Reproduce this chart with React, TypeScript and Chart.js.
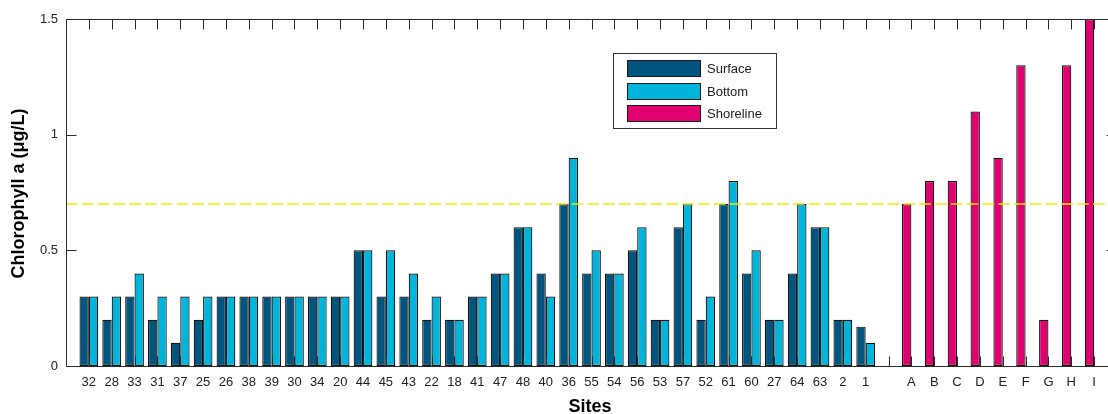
import React, { useEffect, useRef } from 'react';
import { Chart, registerables } from 'chart.js';

Chart.register(...registerables);

const siteLabels = ['32','28','33','31','37','25','26','38','39','30','34','20','44','45','43','22','18','41','47','48','40','36','55','54','56','53','57','52','61','60','27','64','63','2','1'];
const shorelineLabels = ['A','B','C','D','E','F','G','H','I'];
const surfaceValues = [0.3,0.2,0.3,0.2,0.1,0.2,0.3,0.3,0.3,0.3,0.3,0.3,0.5,0.3,0.3,0.2,0.2,0.3,0.4,0.6,0.4,0.7,0.4,0.4,0.5,0.2,0.6,0.2,0.7,0.4,0.2,0.4,0.6,0.2,0.17];
const bottomValues = [0.3,0.3,0.4,0.3,0.3,0.3,0.3,0.3,0.3,0.3,0.3,0.3,0.5,0.5,0.4,0.3,0.2,0.3,0.4,0.6,0.3,0.9,0.5,0.4,0.6,0.2,0.7,0.3,0.8,0.5,0.2,0.7,0.6,0.2,0.1];
const shorelineValues = [0.7,0.8,0.8,1.1,0.9,1.3,0.2,1.3,1.5];
const yTickValues = [0, 0.5, 1, 1.5];
const yTickLabels = ['0', '0.5', '1', '1.5'];
const guidelineValue = 0.7;
const seriesNames = ['Surface', 'Bottom', 'Shoreline'];
const seriesColors = ['#00557f', '#00b4dc', '#e0006f'];

// all tick labels along x: sites, one blank gap, shoreline stations
const allLabels = [...siteLabels, '', ...shorelineLabels];
const shoreStart = siteLabels.length + 2;

const FONT = '"Liberation Sans", Arial, Helvetica, sans-serif';

const decorPlugin = {
  id: 'decor',
  afterDatasetsDraw(chart: any) {
    const { ctx, chartArea: a, scales } = chart;
    const xs = scales.x;
    const ys = scales.y;
    ctx.save();
    // dashed guideline
    const gy = ys.getPixelForValue(guidelineValue);
    ctx.strokeStyle = '#f0ec00';
    ctx.lineWidth = 1.5;
    ctx.setLineDash([11.7, 4.1]);
    ctx.beginPath();
    ctx.moveTo(a.left, gy);
    ctx.lineTo(a.right, gy);
    ctx.stroke();
    ctx.setLineDash([]);

    // frame
    const L = Math.round(a.left) + 0.5;
    const R = Math.round(a.right) - 0.5;
    const T = Math.round(a.top) + 0.5;
    const B = Math.round(a.bottom) + 0.5;
    ctx.strokeStyle = '#2a2a2a';
    ctx.lineWidth = 1;
    ctx.beginPath();
    ctx.moveTo(L, T); ctx.lineTo(R, T); ctx.lineTo(R, B); ctx.lineTo(L, B); ctx.closePath();
    ctx.stroke();

    // inward ticks
    const tl = 10;
    ctx.beginPath();
    xs.ticks.forEach((t: any) => {
      const px = Math.round(xs.getPixelForValue(t.value)) + 0.5;
      ctx.moveTo(px, B); ctx.lineTo(px, B - tl);
      ctx.moveTo(px, T); ctx.lineTo(px, T + tl);
    });
    ys.ticks.forEach((t: any) => {
      const py = Math.round(ys.getPixelForValue(t.value)) + 0.5;
      ctx.moveTo(L, py); ctx.lineTo(L + tl, py);
      ctx.moveTo(R, py); ctx.lineTo(R - tl, py);
    });
    ctx.stroke();

    // legend box
    const bx = 613.5, by = 53.5, bw = 163, bh = 75;
    ctx.fillStyle = '#ffffff';
    ctx.fillRect(bx, by, bw, bh);
    ctx.strokeStyle = '#333333';
    ctx.strokeRect(bx, by, bw, bh);
    const rowY = [60.5, 83.5, 105.5];
    ctx.font = `13px ${FONT}`;
    ctx.textBaseline = 'middle';
    ctx.textAlign = 'left';
    seriesNames.forEach((name, i) => {
      ctx.fillStyle = seriesColors[i];
      ctx.fillRect(627.5, rowY[i], 73, 16);
      ctx.strokeStyle = '#1a1a1a';
      ctx.strokeRect(627.5, rowY[i], 73, 16);
      ctx.fillStyle = '#222';
      ctx.fillText(name, 707, rowY[i] + 8.5);
    });

    // axis titles
    ctx.fillStyle = '#000';
    ctx.font = `bold 18px ${FONT}`;
    ctx.textAlign = 'center';
    ctx.textBaseline = 'alphabetic';
    ctx.fillText('Sites', 590, 412);
    ctx.save();
    ctx.translate(24, 193.5);
    ctx.rotate(-Math.PI / 2);
    ctx.fillText('Chlorophyll a (\u03bcg/L)', 0, 0);
    ctx.restore();
    ctx.restore();
  },
};

export default function App() {
  const ref = useRef<HTMLCanvasElement | null>(null);
  useEffect(() => {
    if (!ref.current) return;
    const common = { borderColor: '#111111', borderWidth: 1.2, borderSkipped: false, categoryPercentage: 0.82, barPercentage: 1 };
    const chart = new Chart(ref.current, {
      type: 'bar',
      data: {
        datasets: [
          { label: seriesNames[0], data: surfaceValues.map((v, i) => ({ x: i + 1, y: v })), backgroundColor: seriesColors[0], stack: 'front', ...common },
          { label: seriesNames[1], data: bottomValues.map((v, i) => ({ x: i + 1, y: v })), backgroundColor: seriesColors[1], stack: 'back', ...common },
          { label: seriesNames[2], data: shorelineValues.map((v, i) => ({ x: shoreStart + i, y: v })), backgroundColor: seriesColors[2], stack: 'front', ...common },
        ] as any,
      },
      options: {
        responsive: false,
        animation: false,
        devicePixelRatio: 1,
        layout: { padding: { top: 19, right: 13, left: 0, bottom: 0 } },
        plugins: { legend: { display: false }, tooltip: { enabled: false } },
        scales: {
          x: {
            type: 'linear',
            min: 0,
            max: allLabels.length + 1,
            offset: false,
            grid: { display: false },
            border: { display: false },
            afterBuildTicks: (s: any) => { s.ticks = allLabels.map((_, i) => ({ value: i + 1 })); },
            afterFit: (s: any) => { s.height = 48; },
            ticks: {
              autoSkip: false,
              maxRotation: 0,
              padding: 1,
              color: '#222',
              font: { family: FONT, size: 13 },
              callback: (v: any) => allLabels[Number(v) - 1] ?? '',
            },
          },
          y: {
            type: 'linear',
            min: 0,
            max: 1.5,
            grid: { display: false },
            border: { display: false },
            afterBuildTicks: (s: any) => { s.ticks = yTickValues.map((v) => ({ value: v })); },
            afterFit: (s: any) => { s.width = 66; },
            ticks: {
              padding: 0,
              color: '#222',
              font: { family: FONT, size: 13 },
              callback: (v: any) => yTickLabels[yTickValues.indexOf(Number(v))] ?? '',
            },
          },
        },
      } as any,
      plugins: [decorPlugin],
    });
    return () => chart.destroy();
  }, []);
  return (
    <div style={{ position: 'absolute', left: 0, top: 0, width: 1108, height: 414, overflow: 'hidden', background: '#fff' }}>
      <canvas ref={ref} width={1130} height={414} style={{ display: 'block' }} />
    </div>
  );
}
